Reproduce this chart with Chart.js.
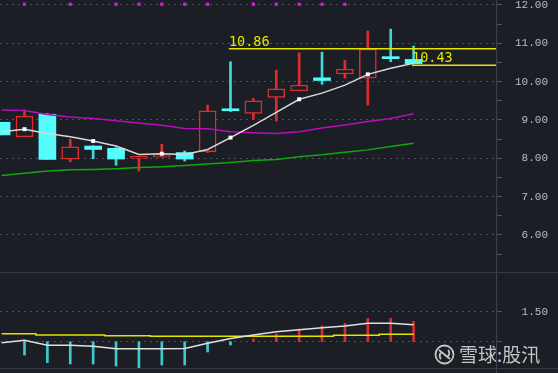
<!DOCTYPE html>
<html>
<head>
<meta charset="utf-8">
<script src="https://cdn.jsdelivr.net/npm/chart.js@4.4.1/dist/chart.umd.min.js"></script>
<style>
  html, body { margin: 0; padding: 0; background: #1c1e25; }
  #wrap { position: relative; width: 558px; height: 373px; overflow: hidden; background: #1c1e25; }
  #price { position: absolute; left: 0; top: 0; }
  #ind { position: absolute; left: 0; top: 273px; }
  .sep { position: absolute; left: 0; width: 558px; height: 1px; background: #353a44; }
  #wm { position: absolute; left: 434px; top: 343px; display: flex; align-items: center;
        color: rgba(215,215,215,0.9); font: 19px "Noto Sans CJK SC"; line-height: 22px; }
  #wm svg { margin-right: 4px; }
</style>
</head>
<body>
<div id="wrap">
  <canvas id="price" width="558" height="272"></canvas>
  <div class="sep" style="top:272px"></div>
  <canvas id="ind" width="558" height="100"></canvas>
  <div class="sep" style="top:368px"></div>
  <div id="wm">
    <svg width="21" height="21" viewBox="-10.5 -10.5 21 21">
      <circle r="9" fill="none" stroke="rgba(215,215,215,0.9)" stroke-width="1.8"/>
      <path d="M-5 -4 Q-1 -1 0 0 Q1 1 5 4 M-4 4 Q-6 0 -3 -2 M4 -4 Q6 0 3 2" fill="none"
            stroke="rgba(215,215,215,0.9)" stroke-width="1.8" stroke-linecap="round"/>
    </svg>
    <span>雪球:股汛</span>
  </div>
</div>
<script>
// daily candles, left to right
const opens  = [8.94, 8.56, 9.15, 7.98, 8.32, 8.26, 8.00, 8.03, 8.15, 8.17, 9.26, 9.17, 9.59, 9.76, 10.10, 10.20, 10.09, 10.62, 10.58];
const closes = [8.61, 9.10, 7.97, 8.30, 8.23, 7.98, 8.02, 8.10, 7.98, 9.24, 9.24, 9.50, 9.81, 9.91, 10.03, 10.33, 10.85, 10.60, 10.47];
const highs  = [8.94, 9.26, 9.17, 8.50, 8.33, 8.28, 8.03, 8.37, 8.19, 9.39, 10.52, 9.56, 10.30, 10.75, 10.77, 10.56, 11.32, 11.37, 10.93];
const lows   = [8.61, 8.56, 7.97, 7.91, 7.99, 7.82, 7.67, 8.03, 7.93, 8.15, 9.22, 9.02, 8.97, 9.76, 9.93, 10.09, 9.39, 10.52, 10.46];

// moving averages
const ma5  = [8.69, 8.76, 8.65, 8.56, 8.45, 8.32, 8.10, 8.12, 8.10, 8.23, 8.54, 8.86, 9.20, 9.54, 9.70, 9.91, 10.19, 10.35, 10.48];
const ma10 = [9.26, 9.25, 9.14, 9.08, 9.04, 8.98, 8.92, 8.86, 8.78, 8.77, 8.69, 8.67, 8.65, 8.69, 8.79, 8.87, 8.96, 9.04, 9.16];
const ma20 = [7.55, 7.61, 7.67, 7.70, 7.71, 7.73, 7.76, 7.78, 7.81, 7.85, 7.89, 7.94, 7.97, 8.04, 8.09, 8.16, 8.22, 8.31, 8.39];

// signal dots along the top
const signalIdx = [1, 3, 5, 6, 7, 8, 9, 11, 12, 13, 14, 15];
const SIGNAL_LEVEL = 12.02;

// marked price levels (value, starting candle)
const levelVals = [10.86, 10.43];
const levelFrom = [9.93, 17.93];

// lower indicator panel
const HIST_BASE = 1.2;
const histVals   = [null, 1.067, 0.99, 0.977, 0.977, 0.957, 0.94, 0.967, 0.967, 1.097, 1.167, 1.227, 1.277, 1.327, 1.36, 1.384, 1.434, 1.434, 1.404];
const indWhite   = [1.19, 1.214, 1.164, 1.164, 1.154, 1.13, 1.13, 1.13, 1.132, 1.185, 1.232, 1.267, 1.30, 1.32, 1.34, 1.357, 1.384, 1.384, 1.37];
const indYellow  = [1.28, 1.28, 1.267, 1.267, 1.267, 1.26, 1.26, 1.254, 1.254, 1.254, 1.254, 1.254, 1.254, 1.254, 1.254, 1.264, 1.264, 1.274, 1.274];

// axis ticks
const priceTicks = [5.5, 6, 6.5, 7, 7.5, 8, 8.5, 9, 9.5, 10, 10.5, 11, 11.5, 12];
const indTicks = [1.2, 1.5];
const indLabels = ['', '1.50'];

const BG = '#1c1e25';
const RED = '#dc2c2c';
const CYAN = '#54fcfc';
const CYAN_WICK = '#45d4da';
const YELLOW = '#e4e400';
const X_MIN = -0.07, X_MAX = 21.6;

const up = i => closes[i] >= opens[i];
const pts = arr => arr.map((v, i) => ({x: i, y: v}));

function yAxis(min, max, ticks, label, gridOn) {
  return {
    position: 'right', min, max,
    afterBuildTicks: s => { s.ticks = ticks.map(v => ({value: v})); },
    afterFit: s => { s.width = 62; s.paddingTop = 0; s.paddingBottom = 0; },
    ticks: {
      padding: 13, color: '#b9bdc6',
      font: {family: 'Liberation Mono', size: 11},
      callback: label
    },
    grid: {
      color: c => gridOn(c.tick.value) ? '#4a4f5a' : 'transparent',
      tickColor: '#4a5060', tickLength: 6, lineWidth: 1
    },
    border: {display: true, color: '#3b4150', width: 1, dash: [2, 4]}
  };
}

const xAxis = {type: 'linear', min: X_MIN, max: X_MAX, display: false, offset: false};

const levelText = {
  id: 'levelText',
  afterDatasetsDraw(chart) {
    const {ctx, scales: {x, y}} = chart;
    ctx.save();
    ctx.font = '13.5px "DejaVu Sans Mono"';
    ctx.fillStyle = YELLOW;
    ctx.textBaseline = 'alphabetic';
    levelVals.forEach((v, k) => {
      ctx.fillText(v.toFixed(2), x.getPixelForValue(levelFrom[k]), y.getPixelForValue(v) - 3);
    });
    ctx.restore();
  }
};

new Chart(document.getElementById('price'), {
  type: 'bar',
  data: {
    datasets: [
      {
        // wicks
        data: highs.map((h, i) => ({x: i, y: [lows[i], h]})),
        barThickness: 2, grouped: false, order: 5, minBarLength: 1,
        backgroundColor: c => up(c.dataIndex) ? RED : CYAN_WICK, borderWidth: 0
      },
      {
        // bodies
        data: opens.map((o, i) => ({x: i, y: [o, closes[i]]})),
        barThickness: 17, grouped: false, order: 4, minBarLength: 2,
        backgroundColor: c => up(c.dataIndex) ? BG : CYAN,
        borderColor: RED, borderSkipped: false,
        borderWidth: c => up(c.dataIndex) ? 1.5 : 0
      },
      {
        type: 'line', data: pts(ma20), borderColor: '#0fa80f', borderWidth: 1.5,
        pointRadius: 0, order: 3
      },
      {
        type: 'line', data: pts(ma10), borderColor: '#b80cc0', borderWidth: 1.5,
        pointRadius: 0, order: 3
      },
      {
        type: 'line', data: pts(ma5), borderColor: '#d8d8d8', borderWidth: 1.5,
        pointStyle: 'rect', pointBackgroundColor: '#ffffff', pointBorderWidth: 0,
        pointRadius: c => c.dataIndex % 3 === 1 ? 2.8 : 0, order: 2
      },
      ...levelVals.map((v, k) => ({
        type: 'line', data: [{x: levelFrom[k], y: v}, {x: X_MAX, y: v}],
        borderColor: YELLOW, borderWidth: 1.5, pointRadius: 0, order: 1
      })),
      {
        type: 'line', showLine: false, data: signalIdx.map(i => ({x: i, y: SIGNAL_LEVEL})),
        pointStyle: 'rect', pointRadius: 2.3, pointBackgroundColor: '#e414e4',
        pointBorderWidth: 0, order: 1
      }
    ]
  },
  options: {
    responsive: false, animation: false,
    layout: {padding: 0, autoPadding: false},
    plugins: {legend: {display: false}, tooltip: {enabled: false}},
    scales: {
      x: xAxis,
      y: yAxis(5.034, 12.13, priceTicks,
        v => Number.isInteger(v) ? v.toFixed(2).padStart(5, ' ') : '',
        v => Number.isInteger(v))
    }
  },
  plugins: [levelText]
});

new Chart(document.getElementById('ind'), {
  type: 'bar',
  data: {
    datasets: [
      {
        data: histVals.map((v, i) => ({x: i, y: v === null ? null : [HIST_BASE, v]})),
        barThickness: 2, grouped: false, order: 3, borderWidth: 0,
        backgroundColor: c => histVals[c.dataIndex] >= HIST_BASE ? '#d42e2e' : '#3ec8d0'
      },
      {
        type: 'line', data: pts(indYellow), borderColor: YELLOW, borderWidth: 1.5,
        stepped: 'middle', pointRadius: 0, order: 2
      },
      {
        type: 'line', data: pts(indWhite), borderColor: '#e0e0e0', borderWidth: 1.5,
        pointRadius: 0, order: 1
      }
    ]
  },
  options: {
    responsive: false, animation: false,
    layout: {padding: 0, autoPadding: false},
    plugins: {legend: {display: false}, tooltip: {enabled: false}},
    scales: {
      x: xAxis,
      y: yAxis(0.887, 1.887, indTicks,
        (v, i) => (indLabels[i] || '').padStart(5, ' '),
        () => true)
    }
  }
});
</script>
</body>
</html>
